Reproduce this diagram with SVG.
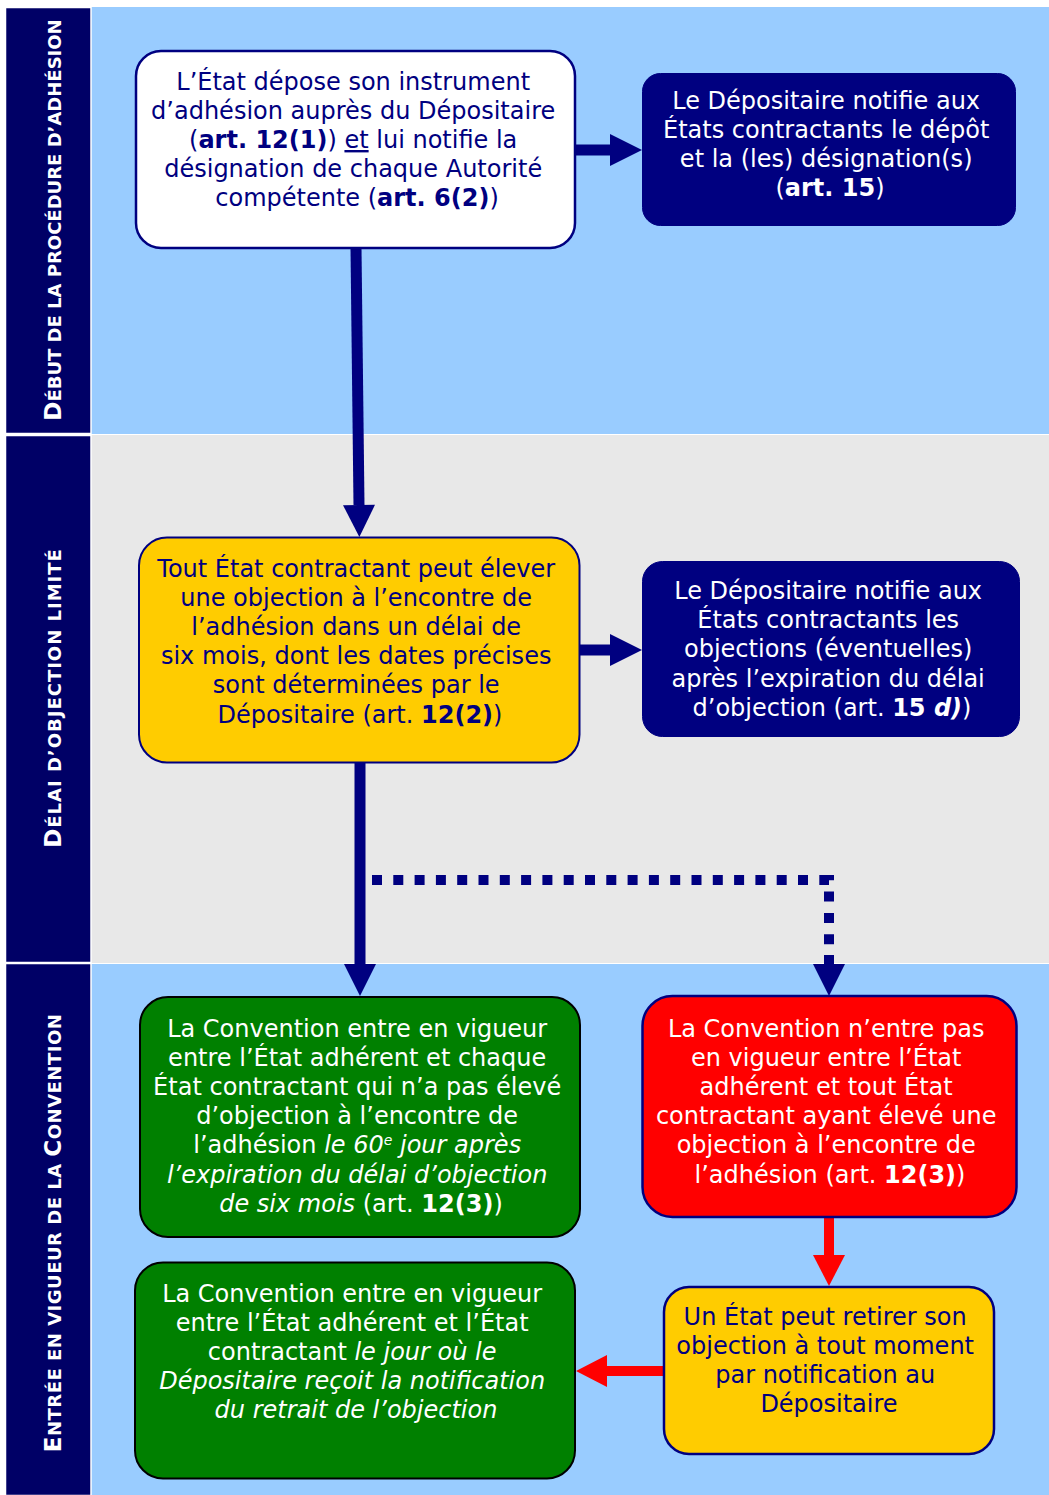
<svg xmlns="http://www.w3.org/2000/svg" width="1049" height="1495" viewBox="0 0 1049 1495">
<style>
.t{font-family:"DejaVu Sans",Verdana,sans-serif;font-size:24px;text-anchor:middle}
.nv{fill:#000080}
.wh{fill:#ffffff}
.b{font-weight:bold}
.i{font-style:italic}
.lbl{font-family:"DejaVu Sans",Verdana,sans-serif;font-weight:bold;font-size:18px;fill:#ffffff;text-anchor:middle}
.big{font-size:23px}
.bar{fill:#000066;stroke:#ffffff;stroke-width:1.5}
.shaft{stroke:#000080;stroke-width:11;fill:none}
.red{stroke:#ff0000;stroke-width:10;fill:none}
.dot{stroke:#000080;stroke-width:10;fill:none;stroke-dasharray:10 11.3}
</style>
<defs>
<marker id="ah" markerUnits="userSpaceOnUse" markerWidth="33" markerHeight="33" refX="0" refY="16" orient="auto" overflow="visible"><path d="M0,0 L32,16 L0,32 Z" fill="#000080"/></marker>
<marker id="ahr" markerUnits="userSpaceOnUse" markerWidth="33" markerHeight="33" refX="0" refY="16" orient="auto" overflow="visible"><path d="M0,0 L31,16 L0,32 Z" fill="#ff0000"/></marker>
</defs>
<rect width="1049" height="1495" fill="#ffffff"/>
<g id="lanes">
<rect x="5" y="7" width="1044" height="427" fill="#99ccff"/>
<rect x="5" y="435" width="1044" height="528" fill="#e8e8e8"/>
<rect x="5" y="964" width="1044" height="531" fill="#99ccff"/>
<rect class="bar" x="5.5" y="7.5" width="85.5" height="426"/>
<rect class="bar" x="5.5" y="435.5" width="85.5" height="527"/>
<rect class="bar" x="5.5" y="963.5" width="85.5" height="532"/>
<text class="lbl" transform="translate(61,220) rotate(-90)"><tspan class="big">D</tspan>ÉBUT DE LA PROCÉDURE D’ADHÉSION</text>
<text class="lbl" transform="translate(61,698) rotate(-90)" letter-spacing="1"><tspan class="big">D</tspan>ÉLAI D’OBJECTION LIMITÉ</text>
<text class="lbl" transform="translate(61,1233) rotate(-90)" letter-spacing="0.5"><tspan class="big">E</tspan>NTRÉE EN VIGUEUR DE LA <tspan class="big">C</tspan>ONVENTION</text>
</g>
<g id="connectors">
<line class="shaft" x1="576" y1="150" x2="610" y2="150" marker-end="url(#ah)"/>
<line class="shaft" x1="356" y1="248" x2="359" y2="505" marker-end="url(#ah)"/>
<line class="shaft" x1="580" y1="650" x2="610" y2="650" marker-end="url(#ah)"/>
<line class="shaft" x1="360" y1="763" x2="360" y2="964" marker-end="url(#ah)"/>
<path class="dot" d="M372,880 H829 V964"/>
<line x1="829" y1="955" x2="829" y2="964" stroke="#000080" stroke-width="10"/>
<path d="M813,964 L829,996 L845,964 Z" fill="#000080"/>
<line class="red" x1="829" y1="1218" x2="829" y2="1255" marker-end="url(#ahr)"/>
<line class="red" x1="663" y1="1371" x2="607" y2="1371" marker-end="url(#ahr)"/>
</g>
<g id="n1">
<rect x="136" y="51" width="439" height="197" rx="25" fill="#ffffff" stroke="#000080" stroke-width="2.5"/>
<text class="t nv" x="356">
<tspan x="357" y="90">L’État dépose son instrument</tspan>
<tspan x="357" y="119">d’adhésion auprès du Dépositaire</tspan>
<tspan x="357" y="148">(<tspan class="b">art. 12(1)</tspan>) <tspan text-decoration="underline">et</tspan> lui notifie la</tspan>
<tspan x="357" y="177">désignation de chaque Autorité</tspan>
<tspan x="357" y="206">compétente (<tspan class="b">art. 6(2)</tspan>)</tspan>
</text>
</g>
<g id="n2">
<rect x="642.5" y="73.5" width="373" height="152" rx="18" fill="#000080" stroke="#000080"/>
<text class="t wh">
<tspan x="830" y="109">Le Dépositaire notifie aux</tspan>
<tspan x="830" y="138">États contractants le dépôt</tspan>
<tspan x="830" y="167">et la (les) désignation(s)</tspan>
<tspan x="830" y="196">(<tspan class="b">art. 15</tspan>)</tspan>
</text>
</g>
<g id="n3">
<rect x="139" y="537.5" width="440.5" height="225" rx="28" fill="#ffcc00" stroke="#000080" stroke-width="2"/>
<text class="t nv">
<tspan x="360" y="577">Tout État contractant peut élever</tspan>
<tspan x="360" y="606">une objection à l’encontre de</tspan>
<tspan x="360" y="635">l’adhésion dans un délai de</tspan>
<tspan x="360" y="664">six mois, dont les dates précises</tspan>
<tspan x="360" y="693">sont déterminées par le</tspan>
<tspan x="360" y="723">Dépositaire (art. <tspan class="b">12(2)</tspan>)</tspan>
</text>
</g>
<g id="n4">
<rect x="642.5" y="561.5" width="377" height="175" rx="20" fill="#000080" stroke="#000080"/>
<text class="t wh">
<tspan x="832" y="599">Le Dépositaire notifie aux</tspan>
<tspan x="832" y="628">États contractants les</tspan>
<tspan x="832" y="657">objections (éventuelles)</tspan>
<tspan x="832" y="687">après l’expiration du délai</tspan>
<tspan x="832" y="716">d’objection (art. <tspan class="b">15 <tspan class="i">d)</tspan></tspan>)</tspan>
</text>
</g>
<g id="n5">
<rect x="140" y="997" width="440" height="240" rx="28" fill="#008000" stroke="#000000" stroke-width="2"/>
<text class="t wh">
<tspan x="361" y="1037">La Convention entre en vigueur</tspan>
<tspan x="361" y="1066">entre l’État adhérent et chaque</tspan>
<tspan x="361" y="1095">État contractant qui n’a pas élevé</tspan>
<tspan x="361" y="1124">d’objection à l’encontre de</tspan>
<tspan x="361" y="1153">l’adhésion <tspan class="i">le 60<tspan font-size="14" baseline-shift="super">e</tspan> jour après</tspan></tspan>
<tspan x="361" y="1183" class="i">l’expiration du délai d’objection</tspan>
<tspan x="361" y="1212"><tspan class="i">de six mois</tspan> (art. <tspan class="b">12(3)</tspan>)</tspan>
</text>
</g>
<g id="n6">
<rect x="642.5" y="996" width="374" height="221" rx="30" fill="#ff0000" stroke="#000080" stroke-width="2.5"/>
<text class="t wh">
<tspan x="830" y="1037">La Convention n’entre pas</tspan>
<tspan x="830" y="1066">en vigueur entre l’État</tspan>
<tspan x="830" y="1095">adhérent et tout État</tspan>
<tspan x="830" y="1124">contractant ayant élevé une</tspan>
<tspan x="830" y="1153">objection à l’encontre de</tspan>
<tspan x="830" y="1183">l’adhésion (art. <tspan class="b">12(3)</tspan>)</tspan>
</text>
</g>
<g id="n7">
<rect x="135" y="1262.5" width="440" height="216" rx="28" fill="#008000" stroke="#000000" stroke-width="2"/>
<text class="t wh">
<tspan x="356" y="1302">La Convention entre en vigueur</tspan>
<tspan x="356" y="1331">entre l’État adhérent et l’État</tspan>
<tspan x="356" y="1360">contractant <tspan class="i">le jour où le</tspan></tspan>
<tspan x="356" y="1389" class="i">Dépositaire reçoit la notification</tspan>
<tspan x="356" y="1418" class="i">du retrait de l’objection</tspan>
</text>
</g>
<g id="n8">
<rect x="664" y="1287" width="330" height="167" rx="25" fill="#ffcc00" stroke="#000080" stroke-width="2.5"/>
<text class="t nv">
<tspan x="829" y="1325">Un État peut retirer son</tspan>
<tspan x="829" y="1354">objection à tout moment</tspan>
<tspan x="829" y="1383">par notification au</tspan>
<tspan x="829" y="1412">Dépositaire</tspan>
</text>
</g>
</svg>
